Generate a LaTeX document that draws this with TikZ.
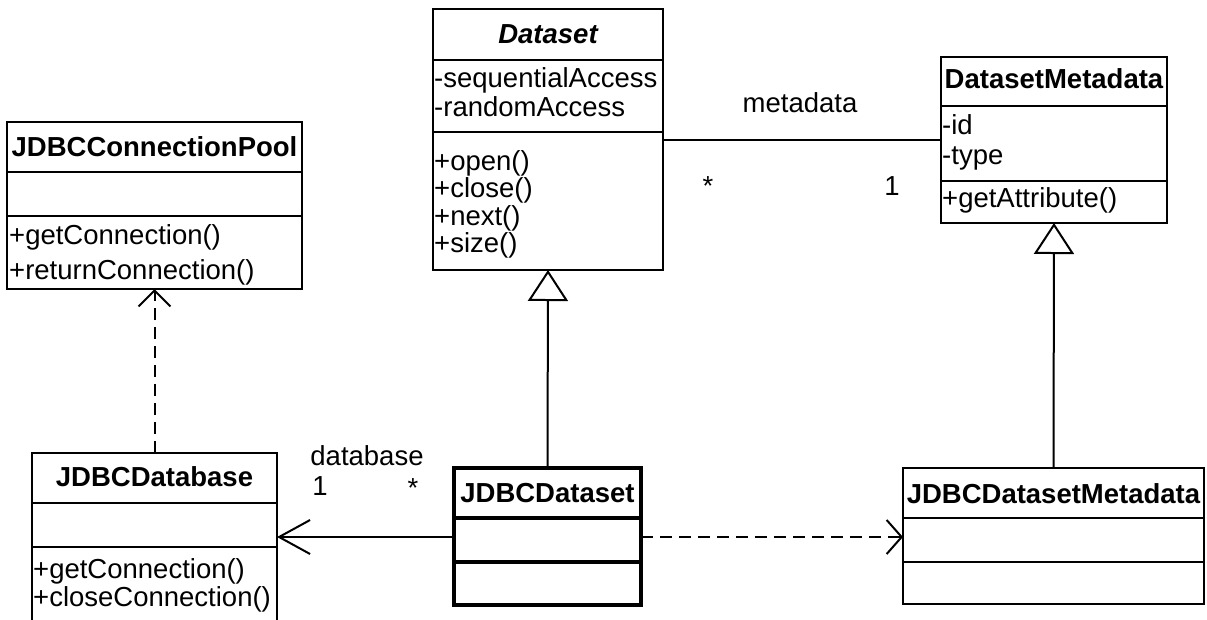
\documentclass[tikz,border=0pt]{standalone}
\usepackage{fontspec}
\setmainfont{Liberation Sans}
\usetikzlibrary{arrows.meta,calc}
\newcommand\umlfs{\fontsize{27.5pt}{30pt}\selectfont}
\begin{document}
\begin{tikzpicture}[x=1pt,y=-1pt,
  comp/.style={draw, line width=2pt, rectangle, inner sep=0pt, outer sep=0pt, anchor=north west},
  heavy/.style={comp, line width=3.5pt},
  txt/.style={anchor=base west, inner sep=0pt, font=\umlfs},
  hdr/.style={anchor=base, inner sep=0pt, font=\umlfs\bfseries},
  lbl/.style={anchor=base, inner sep=0pt, font=\umlfs},
  conn/.style={line width=2pt},
  dep/.style={line width=2pt, dash pattern=on 12pt off 7pt},
  gen/.style={-{Triangle[open, length=31pt, width=40pt]}}
]
\useasboundingbox (0,0) rectangle (1207,619);
\fill[white] (0,0) rectangle (1207,619);

% JDBCConnectionPool
\node[comp, minimum width=295, minimum height=50] (poolH) at (7,122) {};
\node[comp, minimum width=295, minimum height=44] (poolA) at (7,172) {};
\node[comp, minimum width=295, minimum height=73] (poolO) at (7,216) {};
\node[hdr] (poolT) at (154.5,156) {JDBCConnectionPool};
\node[txt] (poolO1) at (9,244) {+getConnection()};
\node[txt] (poolO2) at (9,279) {+returnConnection()};

% Dataset
\node[comp, minimum width=230, minimum height=51] (dsH) at (433,9) {};
\node[comp, minimum width=230, minimum height=72] (dsA) at (433,60) {};
\node[comp, minimum width=230, minimum height=138] (dsO) at (433,132) {};
\node[hdr, font=\umlfs\bfseries\itshape] (dsT) at (548,43) {Dataset};
\node[txt] (dsA1) at (434,87) {-sequentialAccess};
\node[txt] (dsA2) at (434,116) {-randomAccess};
\node[txt] (dsO1) at (434,170) {+open()};
\node[txt] (dsO2) at (434,197) {+close()};
\node[txt] (dsO3) at (434,225) {+next()};
\node[txt] (dsO4) at (434,252) {+size()};

% DatasetMetadata
\node[comp, minimum width=226, minimum height=49] (dmH) at (941,57) {};
\node[comp, minimum width=226, minimum height=75] (dmA) at (941,106) {};
\node[comp, minimum width=226, minimum height=42] (dmO) at (941,181) {};
\node[hdr] (dmT) at (1054,88) {DatasetMetadata};
\node[txt] (dmA1) at (942,134) {-id};
\node[txt] (dmA2) at (942,164) {-type};
\node[txt] (dmO1) at (942,207) {+getAttribute()};

% JDBCDatabase
\node[comp, minimum width=245, minimum height=50] (jdbH) at (32,453) {};
\node[comp, minimum width=245, minimum height=44] (jdbA) at (32,503) {};
\node[comp, minimum width=245, minimum height=90] (jdbO) at (32,547) {};
\node[hdr] (jdbT) at (154.5,486) {JDBCDatabase};
\node[txt] (jdbO1) at (33,578) {+getConnection()};
\node[txt] (jdbO2) at (33,606) {+closeConnection()};

% JDBCDataset
\node[heavy, minimum width=187, minimum height=50] (jdsH) at (454,468) {};
\node[heavy, minimum width=187, minimum height=44] (jdsA) at (454,518) {};
\node[heavy, minimum width=187, minimum height=43] (jdsO) at (454,562) {};
\node[hdr] (jdsT) at (547.5,502) {JDBCDataset};

% JDBCDatasetMetadata
\node[comp, minimum width=301, minimum height=50] (jdmH) at (903,468) {};
\node[comp, minimum width=301, minimum height=44] (jdmA) at (903,518) {};
\node[comp, minimum width=301, minimum height=42] (jdmO) at (903,562) {};
\node[hdr] (jdmT) at (1053.5,503) {JDBCDatasetMetadata};

% generalizations
\draw[conn, gen] (jdsH.north) -- (dsO.south);
\draw[conn, gen] (jdmH.north) -- (dmO.south);

% association metadata
\draw[conn] ($(dsO.north east)+(0,8)$) -- ($(dmA.north west)+(0,34)$);
\node[lbl] (lmeta) at (800,112) {metadata};
\node[lbl] (lstar1) at (708,195) {*};
\node[lbl] (lone1) at (892,195) {1};

% association database
\draw[conn, -{Straight Barb[length=31pt, width=34pt]}] ($(jdsA.west)+(0,-3)$) -- ($(jdbA.south east)+(0,-10)$);
\node[lbl] (ldb) at (367,465) {database};
\node[lbl] (lone2) at (320,495) {1};
\node[lbl] (lstar2) at (413,497) {*};

% dependencies
\draw[dep, -{Straight Barb[length=15pt, width=34pt]}] ($(jdsA.east)+(0,-3)$) -- ($(jdmA.west)+(0,-3)$);
\draw[dep, -{Straight Barb[length=16pt, width=32pt]}] (jdbH.north) -- (poolO.south);
\end{tikzpicture}
\end{document}
